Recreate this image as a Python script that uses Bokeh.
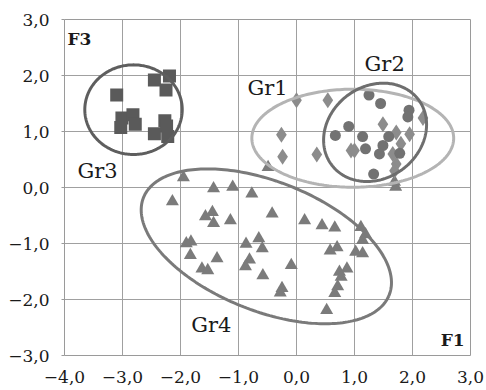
import numpy as np
from bokeh.plotting import figure
from bokeh.models import Range1d, FixedTicker
from bokeh.core.properties import value
from bokeh.embed import file_html
from bokeh.resources import INLINE

# ---- data ----
# Gr1 (diamonds)
gr1_x = [0.0, 0.54, -0.26, -0.24, 0.35, 1.49, 1.72, 1.95, 2.18, 0.94, 1.00, 1.80, 1.66, 1.72, 1.69]
gr1_y = [1.56, 1.56, 0.94, 0.55, 0.59, 1.13, 0.98, 0.95, 1.24, 0.66, 0.66, 0.78, 0.60, 0.42, 0.30]
# Gr2 (circles)
gr2_x = [1.25, 1.45, 1.94, 1.92, 0.90, 0.67, 1.14, 1.59, 1.19, 1.49, 1.43, 1.78, 1.33]
gr2_y = [1.65, 1.50, 1.38, 1.26, 1.09, 0.93, 0.91, 0.91, 0.69, 0.75, 0.60, 0.61, 0.24]
# Gr3 (squares)
gr3_x = [-2.45, -2.19, -2.25, -3.10, -3.01, -2.82, -2.78, -3.03, -2.27, -2.45, -2.24, -2.22]
gr3_y = [1.92, 1.99, 1.74, 1.65, 1.24, 1.30, 1.13, 1.07, 1.19, 0.96, 1.10, 0.91]
# Gr4 (triangles)
gr4_x = [-0.49, -1.95, -2.14, -1.43, -1.10, -0.77, -1.57, -1.45, -1.43, -1.14, -1.90, -1.82,
         -1.83, -1.37, -1.63, -1.53, -0.87, -0.65, -0.59, -0.81, -0.88, -0.58, -0.42, 0.14,
         0.44, 0.66, 1.11, 1.19, 1.14, 0.70, 0.58, 1.02, 1.14, -0.09, 0.87, 0.74, 0.77,
         0.71, 0.66, -0.25, -0.28, 0.52, 1.71, 1.69]
gr4_y = [0.36, 0.18, -0.25, -0.02, 0.01, -0.11, -0.52, -0.44, -0.64, -0.59, -1.00, -0.97,
         -1.21, -1.27, -1.45, -1.48, -1.01, -0.91, -1.09, -1.29, -1.41, -1.57, -0.47, -0.59,
         -0.68, -0.72, -0.71, -0.84, -0.94, -1.07, -1.13, -1.15, -1.18, -1.39, -1.45, -1.51,
         -1.60, -1.77, -1.89, -1.80, -1.88, -2.19, 0.01, 0.10]

# group ellipses: centre x, centre y, semi-axis a, semi-axis b, angle (deg)
ell_names = ["Gr1", "Gr2", "Gr3", "Gr4"]
ell_cx = [0.97, 1.355, -2.81, -0.52]
ell_cy = [0.88, 0.985, 1.39, -1.05]
ell_a = [1.74, 0.95, 0.84, 2.29]
ell_b = [0.875, 0.81, 0.80, 1.15]
ell_ang = [0.0, 43.0, 0.0, -22.8]

x_ticks = [-4, -3, -2, -1, 0, 1, 2, 3]
x_tick_labels = ["−4,0", "−3,0", "−2,0", "−1,0", "0,0", "1,0", "2,0", "3,0"]
y_ticks = [-3, -2, -1, 0, 1, 2, 3]
y_tick_labels = ["−3,0", "−2,0", "−1,0", "0,0", "1,0", "2,0", "3,0"]

# ---- style ----
FONT = "DejaVu Serif"
ell_colors = ["#b4b4b4", "#6e6e6e", "#5e5e5e", "#7a7a7a"]

p = figure(width=486, height=390, output_backend="svg", toolbar_location=None,
           x_range=Range1d(-4, 3), y_range=Range1d(-3, 3),
           min_border_left=64, min_border_right=16, min_border_top=19, min_border_bottom=35)
p.background_fill_color = "white"
p.border_fill_color = "white"
p.outline_line_color = "#9a9a9a"
p.outline_line_width = 1

for ax, ticks, labels in ((p.xaxis[0], x_ticks, x_tick_labels), (p.yaxis[0], y_ticks, y_tick_labels)):
    ax.ticker = FixedTicker(ticks=ticks)
    ax.major_label_overrides = {t: l for t, l in zip(ticks, labels)}
    ax.axis_line_color = None
    ax.minor_tick_line_color = None
    ax.major_label_text_font = FONT
    ax.major_label_text_font_size = "17px"
    ax.major_label_text_color = "#1a1a1a"

p.xaxis.major_tick_line_color = None
p.xaxis.major_tick_out = 0
p.xaxis.major_label_standoff = 15
p.yaxis.major_tick_line_color = "#9a9a9a"
p.yaxis.major_tick_out = 3
p.yaxis.major_tick_in = 0
p.yaxis.major_label_standoff = 12

p.xgrid.grid_line_color = "#a0a0a0"
p.ygrid.grid_line_color = "#a0a0a0"
p.xgrid.grid_line_width = 1
p.ygrid.grid_line_width = 1

# points
p.scatter(gr4_x, gr4_y, marker="triangle", size=13, fill_color="#7b7b7b", line_color=None)
p.scatter(gr1_x, gr1_y, marker="diamond", size=16, fill_color="#8c8c8c", line_color=None)
p.scatter(gr2_x, gr2_y, marker="circle", size=11, fill_color="#727272", line_color=None)
p.scatter(gr3_x, gr3_y, marker="square", size=13, fill_color="#5a5a5a", line_color=None)

# ellipses
t = np.linspace(0, 2 * np.pi, 241)
for cx, cy, a, b, ang, col in zip(ell_cx, ell_cy, ell_a, ell_b, ell_ang, ell_colors):
    th = np.radians(ang)
    ex = cx + a * np.cos(t) * np.cos(th) - b * np.sin(t) * np.sin(th)
    ey = cy + a * np.cos(t) * np.sin(th) + b * np.sin(t) * np.cos(th)
    p.line(ex, ey, line_color=col, line_width=3)

# group labels
lab_x = [-0.5, 1.52, -3.43, -1.47]
lab_y = [1.77, 2.21, 0.30, -2.46]
p.text(lab_x, lab_y, text=ell_names, text_font=value(FONT), text_font_size="21px",
       text_color="#1a1a1a", text_align="center", text_baseline="middle")

# axis names
p.text([-3.95], [2.65], text=["F3"], text_font=value(FONT), text_font_size="17px",
       text_font_style="bold", text_color="#1a1a1a", text_align="left", text_baseline="middle")
p.text([2.90], [-2.72], text=["F1"], text_font=value(FONT), text_font_size="17px",
       text_font_style="bold", text_color="#1a1a1a", text_align="right", text_baseline="middle")

open("out.html", "w").write(file_html(p, INLINE))
